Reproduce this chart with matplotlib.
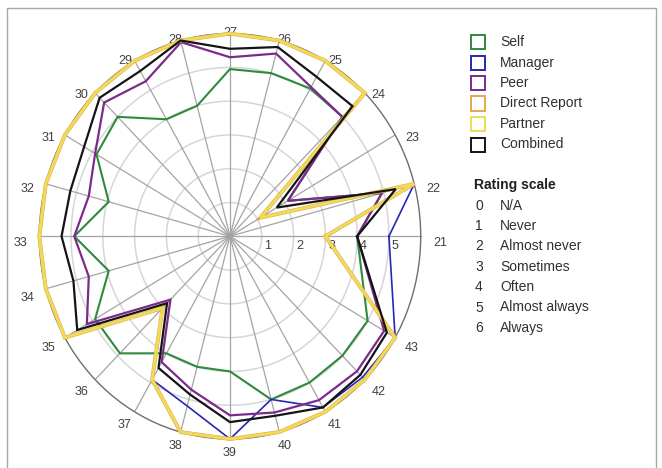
import numpy as np
import matplotlib
matplotlib.use('Agg')
import matplotlib.pyplot as plt
from matplotlib.patches import Rectangle

# ---------------- data ----------------
categories = [str(n) for n in range(21, 44)]

self_vals = [4.0, 4.95, 2.1, 5.0, 5.05, 5.0, 4.95, 4.0, 4.0, 5.0, 4.85, 3.95,
             4.9, 3.95, 4.9, 4.9, 4.0, 4.0, 4.0, 5.0, 5.0, 5.0, 5.0]
manager_vals = [5.0, 6.0, 1.1, 6.0, 6.0, 6.0, 6.0, 6.0, 6.0, 6.0, 6.0, 6.0,
                6.0, 6.0, 6.0, 3.0, 4.9, 5.2, 6.0, 5.0, 5.85, 5.9, 6.0]
peer_vals = [4.0, 4.95, 2.1, 5.0, 5.1, 5.6, 5.3, 5.95, 5.3, 5.6, 4.9, 4.6,
             4.9, 4.6, 5.2, 2.65, 4.3, 4.7, 5.3, 5.4, 5.6, 5.65, 5.6]
direct_report_vals = [3.0, 6.0, 1.1, 6.0, 6.0, 6.0, 6.0, 6.0, 6.0, 6.0, 6.0, 6.0,
                      6.0, 6.0, 6.0, 3.0, 4.9, 6.0, 6.0, 6.0, 6.0, 6.0, 6.0]
partner_vals = [3.0, 6.0, 1.1, 6.0, 6.0, 6.0, 6.0, 6.0, 6.0, 6.0, 6.0, 6.0,
                6.0, 6.0, 6.0, 3.0, 4.9, 6.0, 6.0, 6.0, 6.0, 6.0, 6.0]
combined_vals = [4.0, 5.4, 1.7, 5.45, 5.45, 5.8, 5.55, 6.0, 5.65, 5.8, 5.3, 5.2,
                 5.3, 5.1, 5.55, 2.8, 4.5, 4.85, 5.5, 5.5, 5.85, 5.8, 5.7]

series_names = ['Self', 'Manager', 'Peer', 'Direct Report', 'Partner', 'Combined']
ring_labels = ['1', '2', '3', '4', '5']
scale_codes = ['0', '1', '2', '3', '4', '5', '6']
scale_labels = ['N/A', 'Never', 'Almost never', 'Sometimes', 'Often',
                'Almost always', 'Always']

# ---------------- style ----------------
colors = {'Self': '#2f8a3c', 'Manager': '#2626b8', 'Peer': '#7b2a8c',
          'Direct Report': '#e3a64c', 'Partner': '#efdb58', 'Combined': '#141414'}
widths = {'Self': 1.5, 'Manager': 1.2, 'Peer': 1.6, 'Direct Report': 2.8,
          'Partner': 2.1, 'Combined': 1.6}

plt.rcParams['font.family'] = ['Liberation Sans', 'DejaVu Sans']

W, H = 662, 468
fig = plt.figure(figsize=(W / 100, H / 100), dpi=100)

def fx(x):
    return x / W

def fy(y):
    return 1 - y / H

# frame
fig.add_artist(Rectangle((fx(7), fy(475)), fx(656) - fx(7), fy(8) - fy(475),
                         transform=fig.transFigure, fill=False,
                         edgecolor='#a8a8a8', lw=1.0))

cx, cy, rx, ry = 230, 236.3, 190.7, 202.7
ax = fig.add_axes([fx(cx - rx), fy(cy + ry), 2 * rx / W, 2 * ry / H],
                  projection='polar')
ax.set_aspect('auto')
ax.set_ylim(0, 6)
ax.set_xticks([])
ax.set_yticks([])
ax.grid(False)
ax.spines['polar'].set_color('#6e6e6e')
ax.spines['polar'].set_linewidth(1.0)
ax.patch.set_alpha(0)

n_slots = 24
angles = np.deg2rad(np.arange(len(categories)) * 360.0 / n_slots)

# rings
tt = np.linspace(0, 2 * np.pi, 400)
for r in range(1, 6):
    ax.plot(tt, np.full_like(tt, r), color='#d6d6d6', lw=1.1, zorder=1)
# spokes
for th in angles:
    ax.plot([th, th], [0, 6], color='#a4a4a4', lw=0.9, zorder=1)

series_vals = [self_vals, manager_vals, peer_vals, direct_report_vals,
               partner_vals, combined_vals]
theta_closed = np.append(angles, 2 * np.pi)
for z, (name, vals) in enumerate(zip(series_names, series_vals)):
    v = np.append(vals, vals[0])
    ax.plot(theta_closed, v, color=colors[name], lw=widths[name],
            zorder=3 + z, clip_on=False, solid_joinstyle='miter')

# spoke labels (pixel offsets from the centre)
R_pt = 210 * 72 / 100
down_pt = 7 * 72 / 100
for th, lab in zip(angles, categories):
    ax.annotate(lab, xy=(0, 0), xycoords='data', textcoords='offset points',
                xytext=(R_pt * np.cos(th), R_pt * np.sin(th) - down_pt),
                ha='center', va='center', fontsize=9, color='#404040',
                annotation_clip=False)

# ring labels along the first spoke
for k, lab in enumerate(ring_labels, start=1):
    ax.annotate(lab, xy=(0, k), xycoords='data', textcoords='offset points',
                xytext=(4.5, -7), ha='center', va='center', fontsize=9,
                color='#404040', annotation_clip=False)

# legend
y0, dy = 42, 20.5
for i, name in enumerate(series_names):
    yc = y0 + i * dy
    fig.add_artist(Rectangle((fx(471), fy(yc + 7)), fx(485) - fx(471),
                             fy(yc - 7) - fy(yc + 7), transform=fig.transFigure,
                             facecolor='white', edgecolor=colors[name], lw=1.4))
    fig.text(fx(500), fy(yc), name, ha='left', va='center', fontsize=10,
             color='#303030')

fig.text(fx(474), fy(185), 'Rating scale', ha='left', va='center', fontsize=10,
         fontweight='bold', color='#202020')
for i, (c, lab) in enumerate(zip(scale_codes, scale_labels)):
    yc = 205.5 + i * 20.4
    fig.text(fx(475), fy(yc), c, ha='left', va='center', fontsize=10,
             color='#303030')
    fig.text(fx(500), fy(yc), lab, ha='left', va='center', fontsize=10,
             color='#303030')

fig.savefig('out.png', dpi=100)
